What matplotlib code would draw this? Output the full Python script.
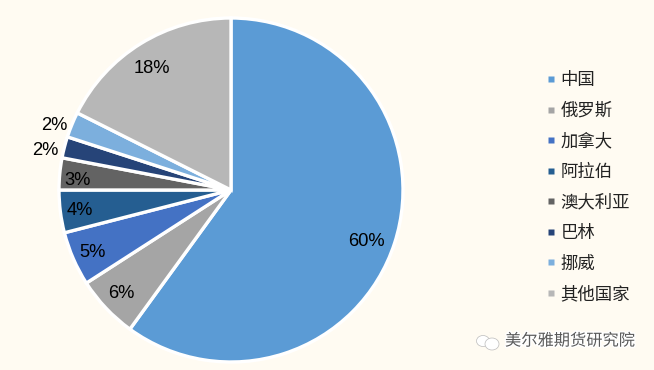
import math
import matplotlib
matplotlib.use('Agg')
import matplotlib.pyplot as plt
from matplotlib.lines import Line2D
from matplotlib.patches import Ellipse
import matplotlib.patheffects as pe

plt.rcParams['font.family'] = ['Liberation Sans', 'Noto Sans CJK SC', 'DejaVu Sans']

categories = ['中国', '俄罗斯', '加拿大', '阿拉伯', '澳大利亚', '巴林', '挪威', '其他国家']
values = [60.0, 5.9, 5.1, 4.0, 3.0, 2.0, 2.4, 17.6]
colors = ['#5B9BD5', '#A5A5A5', '#4472C4', '#255E91', '#636363', '#264478', '#7CAFDD', '#B7B7B7']
labels = ['60%', '6%', '5%', '4%', '3%', '2%', '2%', '18%']
label_radius = [0.88, 0.80, 0.80, 0.80, 0.80, 1.10, 1.10, 0.75]
label_shift = [(-9, -5), (-10, -9), (-12, -7), (-15, -3), (-16, -3), (-2, -8), (-2, -7), (-11, 12)]
BG = '#FFFBF2'

W, H = 654, 370
fig = plt.figure(figsize=(W / 100, H / 100), dpi=100, facecolor=BG)
ax = fig.add_axes([0, 0, 1, 1])
ax.set_facecolor(BG)

wedges, _ = ax.pie(values, colors=colors, startangle=90, counterclock=False,
                   center=(231, 180), radius=172,
                   wedgeprops=dict(edgecolor='white', linewidth=2.4))
ax.set_xlim(0, W)
ax.set_ylim(0, H)
ax.set_aspect('equal')
ax.axis('off')

cum = 0
for v, lab, r, (dx, dy) in zip(values, labels, label_radius, label_shift):
    a = math.radians(90 - (cum + v / 2) * 3.6)
    ax.text(231 + 172 * r * math.cos(a) + dx, 180 + 172 * r * math.sin(a) + dy, lab,
            ha='center', va='center', fontsize=13.2, color='black')
    cum += v

handles = [Line2D([], [], marker='s', linestyle='none', markersize=5,
                  markerfacecolor=c, markeredgecolor='none') for c in colors]
ax.legend(handles, categories, loc='upper left', bbox_to_anchor=(541 / W, 1 - 71 / H),
          bbox_transform=fig.transFigure, frameon=False, labelcolor='#222222',
          labelspacing=0.725, handletextpad=-0.07, handlelength=1.2, borderpad=0, borderaxespad=0,
          prop={'family': ['Noto Sans CJK SC', 'DejaVu Sans'], 'size': 12.5})

# watermark
ax.text(570, 29, '美尔雅期货研究院', ha='center', va='center', fontsize=11.7,
        color='#5A5A5A', family=['Noto Sans CJK SC', 'DejaVu Sans'],
        path_effects=[pe.withStroke(linewidth=2, foreground='white')])
for x, y, w, h in [(483, 29, 13, 11), (492, 26, 14, 12)]:
    ax.add_patch(Ellipse((x, y), w, h, facecolor='white', edgecolor='#BBBBBB', linewidth=0.5))

fig.savefig('out.png', dpi=100, facecolor=BG)
